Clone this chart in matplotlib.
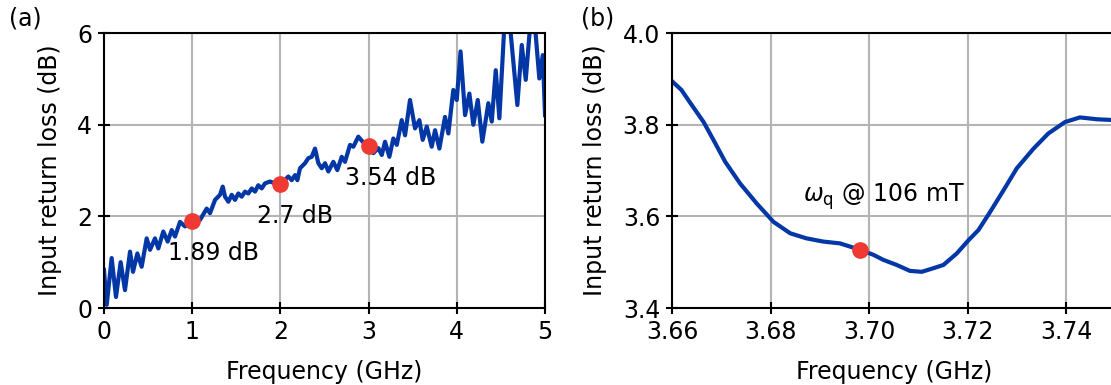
import matplotlib
matplotlib.use('Agg')
import matplotlib.pyplot as plt
from matplotlib.ticker import FormatStrFormatter

# panel (a): broadband return loss
freqA = [0.0, 0.031, 0.087, 0.136, 0.189, 0.238, 0.295, 0.329, 0.378, 0.427,
         0.484, 0.522, 0.578, 0.616, 0.672, 0.722, 0.768, 0.805, 0.862, 0.918,
         1.0, 1.088, 1.164, 1.202, 1.259, 1.315, 1.346, 1.372, 1.41, 1.448,
         1.485, 1.523, 1.561, 1.599, 1.636, 1.675, 1.712, 1.749, 1.788, 1.825,
         1.882, 1.939, 2.0, 2.09, 2.128, 2.166, 2.192, 2.222, 2.279, 2.316,
         2.355, 2.392, 2.43, 2.468, 2.506, 2.543, 2.6, 2.645, 2.695, 2.732,
         2.789, 2.827, 2.883, 2.937, 3.0, 3.053, 3.11, 3.149, 3.186, 3.235,
         3.28, 3.319, 3.375, 3.413, 3.469, 3.526, 3.575, 3.613, 3.659, 3.715,
         3.753, 3.802, 3.866, 3.904, 3.96, 3.999, 4.042, 4.093, 4.142, 4.187,
         4.237, 4.289, 4.357, 4.396, 4.441, 4.482, 4.562, 4.686, 4.736, 4.781,
         4.858, 4.935, 4.974, 5.0]
lossA = [0.83, 0.07, 1.09, 0.24, 1.0, 0.39, 1.23, 0.79, 1.19, 0.9,
         1.52, 1.27, 1.52, 1.3, 1.67, 1.45, 1.7, 1.56, 1.88, 1.78,
         1.89, 1.92, 2.17, 2.07, 2.36, 2.47, 2.65, 2.43, 2.32, 2.47,
         2.36, 2.5, 2.43, 2.54, 2.5, 2.61, 2.54, 2.68, 2.61, 2.72,
         2.76, 2.72, 2.7, 2.87, 2.79, 2.9, 2.79, 3.05, 3.16, 3.27,
         3.3, 3.48, 3.16, 3.05, 3.16, 2.98, 3.19, 3.01, 3.3, 3.19,
         3.56, 3.52, 3.74, 3.62, 3.54, 3.38, 3.49, 3.34, 3.63, 3.3,
         3.7, 3.56, 4.1, 3.77, 4.54, 3.92, 4.1, 3.67, 3.96, 3.52,
         3.88, 3.48, 4.17, 3.81, 4.76, 4.54, 5.6, 4.21, 4.68, 4.0,
         4.54, 3.63, 4.47, 4.07, 5.19, 4.14, 7.0, 4.43, 5.74, 4.98,
         6.8, 5.01, 5.52, 4.21]
markFreqA = [1.0, 2.0, 3.0]
markLossA = [1.89, 2.7, 3.54]
markLabA = ['1.89 dB', '2.7 dB', '3.54 dB']

# panel (b): zoom around the qubit frequency
freqB = [3.6601, 3.6619, 3.664, 3.6664, 3.6684, 3.6708, 3.6738, 3.6772,
         3.6806, 3.684, 3.6873, 3.6907, 3.6941, 3.6982, 3.7009, 3.7029,
         3.7056, 3.7083, 3.7107, 3.7131, 3.7151, 3.7178, 3.7202, 3.7222,
         3.7246, 3.7273, 3.73, 3.7334, 3.7364, 3.7398, 3.7428, 3.7462, 3.75]
lossB = [3.894, 3.876, 3.843, 3.806, 3.767, 3.719, 3.672, 3.628,
         3.588, 3.563, 3.552, 3.545, 3.541, 3.527, 3.516, 3.505,
         3.494, 3.481, 3.479, 3.487, 3.494, 3.519, 3.548, 3.57,
         3.61, 3.657, 3.705, 3.748, 3.781, 3.806, 3.816, 3.812, 3.81]
markFreqB = 3.6982
markLossB = 3.527

lineCol = '#0437a6'
dotCol = '#ee3a32'
fs = 17

plt.rcParams['font.family'] = 'DejaVu Sans'
plt.rcParams['axes.linewidth'] = 1.5

fig = plt.figure(figsize=(11.11, 3.85), dpi=100)
axA = fig.add_axes([0.0936, 0.2, 0.397, 0.714])
axB = fig.add_axes([0.6049, 0.2, 0.399, 0.714])


def styleAx(ax):
    ax.grid(True, color='#b4b4b4', linewidth=1.5)
    ax.set_axisbelow(True)
    ax.tick_params(direction='inout', length=9, width=1.5, labelsize=fs,
                   pad=4)
    ax.set_xlabel('Frequency (GHz)', fontsize=fs, labelpad=12)
    ax.set_ylabel('Input return loss (dB)', fontsize=fs, labelpad=11)


# (a)
axA.plot(freqA, lossA, color=lineCol, lw=3, solid_joinstyle='round')
axA.plot(markFreqA, markLossA, 'o', color=dotCol, ms=11, zorder=5)
for f, v, lab in zip(markFreqA, markLossA, markLabA):
    axA.text(f - 0.27, v - 0.7, lab, fontsize=fs, ha='left', va='center')
axA.set_xlim(0, 5)
axA.set_ylim(0, 6)
axA.set_xticks([0, 1, 2, 3, 4, 5])
axA.set_yticks([0, 2, 4, 6])
styleAx(axA)

# (b)
axB.plot(freqB, lossB, color=lineCol, lw=3)
axB.plot([markFreqB], [markLossB], 'o', color=dotCol, ms=11, zorder=5)
axB.text(3.6865, 3.643, r'$\omega_{\rm q}$ @ 106 mT', fontsize=fs,
         ha='left', va='center')
axB.set_xlim(3.66, 3.75)
axB.set_ylim(3.4, 4.0)
axB.set_xticks([3.66, 3.68, 3.70, 3.72, 3.74])
axB.set_yticks([3.4, 3.6, 3.8, 4.0])
axB.xaxis.set_major_formatter(FormatStrFormatter('%.2f'))
axB.yaxis.set_major_formatter(FormatStrFormatter('%.1f'))
styleAx(axB)

fig.text(0.008, 0.953, '(a)', fontsize=fs, va='center')
fig.text(0.523, 0.953, '(b)', fontsize=fs, va='center')

fig.savefig('out.png', dpi=100)
